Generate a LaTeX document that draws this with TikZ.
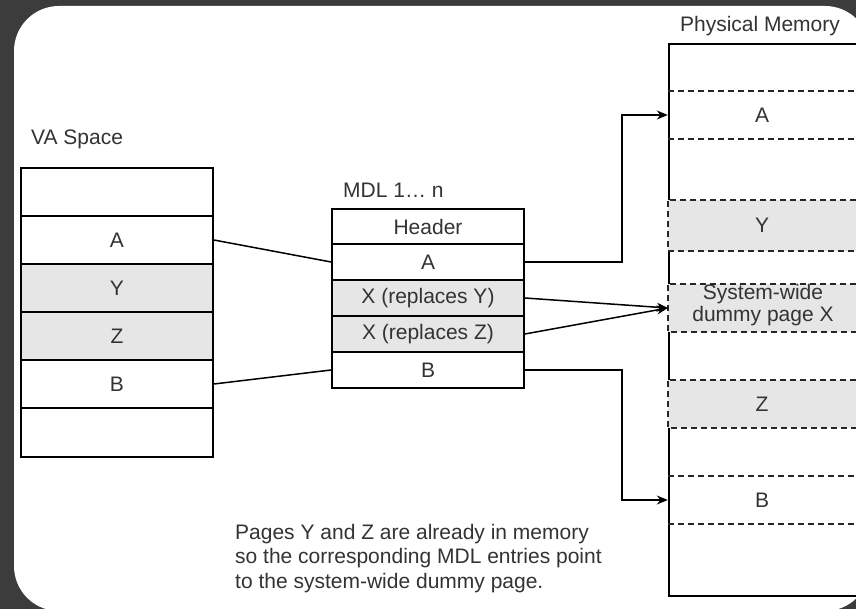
\documentclass[tikz,border=0pt]{standalone}
\usepackage{fontspec}
\setmainfont{Liberation Sans}
\usetikzlibrary{arrows.meta}
\definecolor{frame}{HTML}{3C3C3C}
\definecolor{cellgray}{HTML}{E6E6E6}
\definecolor{ink}{HTML}{333333}
\begin{document}
\begin{tikzpicture}[x=1pt,y=-1pt,
  every node/.style={font=\fontsize{21}{24}\selectfont, text=ink, inner sep=0pt},
  cell/.style={draw=black, line width=1.8pt, minimum width=192pt, minimum height=48pt},
  mdlcell/.style={cell, minimum height=36pt},
  shaded/.style={fill=cellgray},
  slot/.style={minimum width=188pt, minimum height=48pt},
  slotline/.style={line width=1.5pt, dash pattern=on 6pt off 4pt, draw=black!85},
  link/.style={line width=1.5pt, draw=black},
  arrow/.style={link, -{Stealth[length=11pt,width=9pt]}}
]
\useasboundingbox (0,0) rectangle (856,609);
\clip (0,0) rectangle (856,609);

% frame and white sheet
\fill[frame] (0,0) rectangle (856,609);
\fill[white, rounded corners=45pt] (14,6) rectangle (870,611);

% virtual address space
\node[anchor=base west] (vaTitle) at (31,145) {VA Space};
\node[cell] (va0) at (117,192) {};
\node[cell] (vaA) at (117,240) {A};
\node[cell, shaded] (vaY) at (117,288) {Y};
\node[cell, shaded] (vaZ) at (117,336) {Z};
\node[cell] (vaB) at (117,384) {B};
\node[cell, minimum height=49pt] (va5) at (117,432.5) {};

% MDL
\node[anchor=base west] (mdlTitle) at (343,198) {MDL 1… n};
\node[mdlcell, minimum height=35pt] (mdlH) at (428,226.5) {Header};
\node[mdlcell] (mdlA) at (428,262) {A};
\node[mdlcell, shaded] (mdlXY) at (428,298) {X (replaces Y)};
\node[mdlcell, shaded] (mdlXZ) at (428,334) {X (replaces Z)};
\node[mdlcell] (mdlB) at (428,370) {B};

% physical memory
\node[anchor=base] (pmTitle) at (760,32) {Physical Memory};
\node[draw=black, line width=1.8pt, anchor=north west, minimum width=212pt, minimum height=552pt] (pm) at (668,43) {};

\node[slot] (pmA) at (762,115) {A};
\node[slot, fill=cellgray, minimum height=51pt] (pmY) at (762,225.5) {Y};
\node[slot, fill=cellgray] (pmX) at (762,308) {};
\node[align=center, font=\fontsize{21}{22}\selectfont] (pmXtext) at (763,305) {System-wide\\dummy page X};
\node[slot, fill=cellgray] (pmZ) at (762,404) {Z};
\node[slot] (pmB) at (762,500) {B};

\foreach \s in {pmA,pmB}{
  \draw[slotline] (\s.north west) -- (\s.north east);
  \draw[slotline] (\s.south west) -- (\s.south east);
}
\foreach \s in {pmY,pmX,pmZ}{
  \draw[slotline] (\s.north east) -- (\s.north west) -- (\s.south west) -- (\s.south east);
}

% mappings
\draw[link] (vaA.east) -- (mdlA.west);
\draw[link] (vaB.east) -- (mdlB.west);
\draw[arrow] (mdlA.east) -- ++(97,0) |- (pmA.west);
\draw[arrow] (mdlXY.east) -- (pmX.west);
\draw[arrow] (mdlXZ.east) -- (pmX.west);
\draw[arrow] (mdlB.east) -- ++(97,0) |- (pmB.west);

% note
\node[anchor=north west, align=left, font=\fontsize{21}{24.5}\selectfont] (note) at (235,524)
  {Pages Y and Z are already in memory\\so the corresponding MDL entries point\\to the system-wide dummy page.};
\end{tikzpicture}
\end{document}
